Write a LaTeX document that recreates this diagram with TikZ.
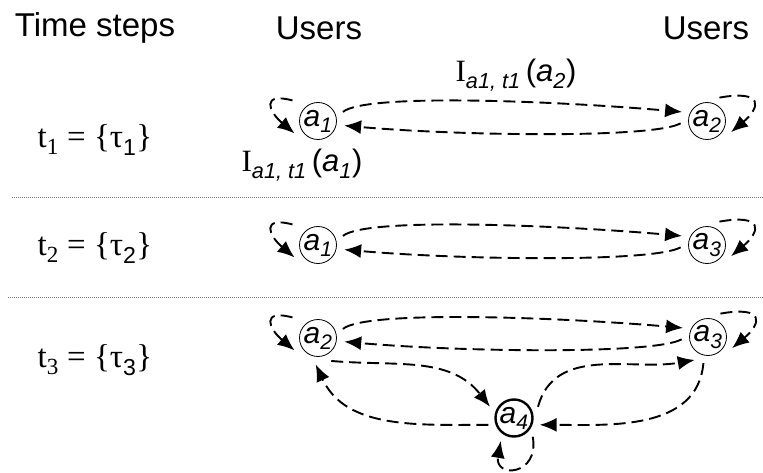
\documentclass[tikz,border=0pt]{standalone}
\usepackage{fontspec}
\setmainfont{Liberation Serif}
\setsansfont{Liberation Sans}
\usetikzlibrary{arrows.meta}
\newcommand{\ag}[1]{\textsf{\textit{a}\textsubscript{\textit{#1}}}}
\newcommand{\infl}[1]{I\textsubscript{\sffamily\itshape a1, t1}\,\textsf{(\textit{a}\textsubscript{\textit{#1}})}}
\newcommand{\teq}[1]{t\textsubscript{#1} = \{τ\textsubscript{\sffamily #1}\}}
\begin{document}
\begin{tikzpicture}[x=1pt,y=1pt,
  usr/.style={circle, draw, line width=0.8pt, minimum size=37pt, inner sep=0pt, outer sep=8pt,
    font=\fontsize{30}{30}\selectfont},
  bold/.style={usr, line width=2.4pt},
  edge/.style={dashed, dash pattern=on 12pt off 6pt, line width=1.9pt, -{Latex[length=17pt,width=14pt]}},
  sep/.style={gray, line width=0.6pt, dash pattern=on 1pt off 1pt},
  head/.style={font=\sffamily\fontsize{33}{33}\selectfont},
  eqn/.style={font=\fontsize{33}{33}\selectfont},
  lbl/.style={font=\fontsize{31}{31}\selectfont}
]
\useasboundingbox (0,0) rectangle (763,472);
% headers
\node[head] (h1) at (95,444) {Time steps};
\node[head] (h2) at (319,444) {Users};
\node[head] (h3) at (706,444) {Users};
% separators
\draw[sep] (12,275) -- (763,275);
\draw[sep] (8,175) -- (763,175);
% equations
\node[eqn] (e1) at (95,332) {\teq{1}};
\node[eqn] (e2) at (95,224) {\teq{2}};
\node[eqn] (e3) at (95,112) {\teq{3}};
% row 1
\node[usr] (A1) at (318,351) {\ag{1}};
\node[usr] (A2) at (707,351) {\ag{2}};
\draw[edge] (A1.20) to[out=40,in=175,out distance=30pt,in distance=120pt] (A2.160);
\draw[edge] (A2.185) to[out=210,in=-5,out distance=30pt,in distance=120pt] (A1.-10);
\draw[edge, shorten <=7pt] (A1.135) to[out=165,in=140,out distance=40pt,in distance=34pt] (A1.208);
\draw[edge] (A2.62) to[out=10,in=40,out distance=46pt,in distance=38pt] (A2.-25);
\node[lbl] (l1) at (516,397) {\infl{2}};
\node[lbl] (l2) at (302,307) {\infl{1}};
% row 2
\node[usr] (B1) at (318,227) {\ag{1}};
\node[usr] (B3) at (707,227) {\ag{3}};
\draw[edge] (B1.20) to[out=40,in=175,out distance=30pt,in distance=120pt] (B3.160);
\draw[edge] (B3.185) to[out=210,in=-5,out distance=30pt,in distance=120pt] (B1.-10);
\draw[edge, shorten <=7pt] (B1.135) to[out=165,in=140,out distance=40pt,in distance=34pt] (B1.208);
\draw[edge] (B3.62) to[out=10,in=40,out distance=46pt,in distance=38pt] (B3.-25);
% row 3
\node[usr] (C2) at (318,134) {\ag{2}};
\node[usr] (C3) at (708,135) {\ag{3}};
\node[bold] (C4) at (514,54) {\ag{4}};
\draw[edge] (C2.20) to[out=40,in=175,out distance=30pt,in distance=120pt] (C3.160);
\draw[edge] (C3.185) to[out=210,in=-5,out distance=30pt,in distance=120pt] (C2.-8);
\draw[edge, shorten <=7pt] (C2.135) to[out=165,in=140,out distance=40pt,in distance=34pt] (C2.208);
\draw[edge] (C3.62) to[out=10,in=40,out distance=46pt,in distance=38pt] (C3.-25);
\draw[edge] (C2.-60) to[out=-5,in=128] (C4.155);
\draw[edge] (C4.25) to[out=75,in=190] (C3.240);
\draw[edge] (C3.260) to[out=265,in=0] (C4.-15);
\draw[edge] (C4.195) to[out=180,in=-65] (C2.265);
\draw[edge] (C4.-45) to[out=-80,in=260,out distance=40pt,in distance=38pt] (C4.240);
\end{tikzpicture}
\end{document}
